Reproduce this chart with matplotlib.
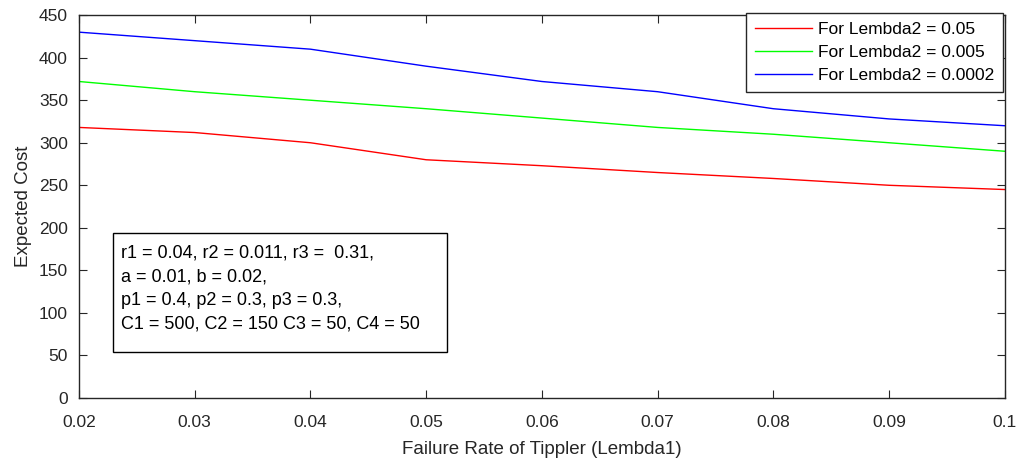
import matplotlib
matplotlib.use("Agg")
from matplotlib import pyplot as plt
from matplotlib.patches import Rectangle

plt.rcParams['font.family'] = ['Liberation Sans', 'DejaVu Sans']

lembda1 = [0.02, 0.03, 0.04, 0.05, 0.06, 0.07, 0.08, 0.09, 0.10]
cost_005 = [318, 312, 300, 280, 273, 265, 258, 250, 245]
cost_0005 = [372, 360, 350, 340, 329, 318, 310, 300, 290]
cost_00002 = [430, 420, 410, 390, 372, 360, 340, 328, 320]
xticks = [0.02, 0.03, 0.04, 0.05, 0.06, 0.07, 0.08, 0.09, 0.1]
xtick_labels = ["0.02", "0.03", "0.04", "0.05", "0.06", "0.07", "0.08", "0.09", "0.1"]
yticks = list(range(0, 451, 50))

fig = plt.figure(figsize=(10.23, 4.59), dpi=100)
ax = fig.add_axes([0.0772, 0.133, 0.905, 0.834])

ax.plot(lembda1, cost_005, color="#ff0000", lw=1, label="For Lembda2 = 0.05")
ax.plot(lembda1, cost_0005, color="#00ff00", lw=1, label="For Lembda2 = 0.005")
ax.plot(lembda1, cost_00002, color="#0000ff", lw=1, label="For Lembda2 = 0.0002")

ax.set_xlim(0.02, 0.1)
ax.set_ylim(0, 450)
ax.set_xticks(xticks)
ax.set_xticklabels(xtick_labels)
ax.set_yticks(yticks)
ax.tick_params(direction="in", top=True, right=True, labelsize=12.5, colors="#262626", length=6)
ax.tick_params(axis="x", pad=12)
ax.tick_params(axis="y", pad=8)
for s in ax.spines.values():
    s.set_color("#262626")
    s.set_linewidth(1)

ax.set_xlabel("Failure Rate of Tippler (Lembda1)", fontsize=13.5, color="#262626", labelpad=8)
ax.set_ylabel("Expected Cost", fontsize=13.5, color="#262626", labelpad=5)

leg = ax.legend(loc="upper right", bbox_to_anchor=(0.9985, 1.005), fontsize=12.5,
                fancybox=False, framealpha=1, edgecolor="#262626", borderaxespad=0,
                handlelength=3.3, handletextpad=0.35, labelspacing=0.45, borderpad=0.5)
leg.get_frame().set_linewidth(1)
leg.set_zorder(5)

# parameter box
ax.add_patch(Rectangle((0.0367, 0.120), 0.3603, 0.311, transform=ax.transAxes,
                       facecolor="white", edgecolor="black", lw=1, zorder=4))
params = ("r1 = 0.04, r2 = 0.011, r3 =  0.31,\n"
          "a = 0.01, b = 0.02,\n"
          "p1 = 0.4, p2 = 0.3, p3 = 0.3,\n"
          "C1 = 500, C2 = 150 C3 = 50, C4 = 50")
ax.text(0.0454, 0.40, params, transform=ax.transAxes, fontsize=13, va="top",
        linespacing=1.5, zorder=5)

fig.savefig("out.png", dpi=100)
